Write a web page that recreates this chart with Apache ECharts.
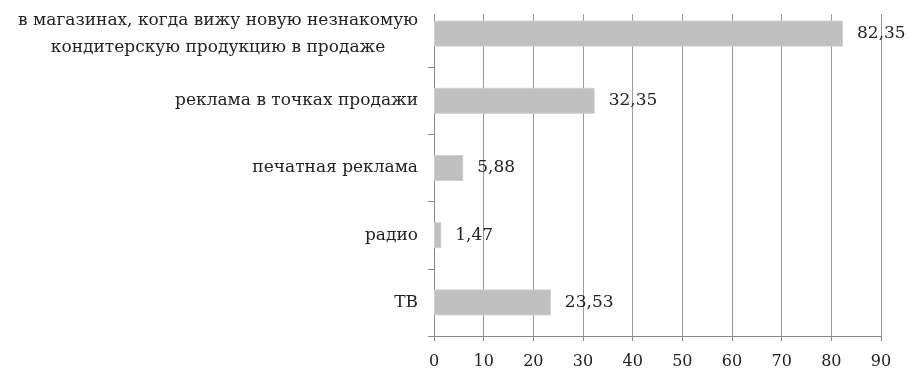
<!DOCTYPE html>
<html>
<head>
<meta charset="utf-8">
<script src="https://cdn.jsdelivr.net/npm/echarts@6/dist/echarts.min.js"></script>
<style>
  html, body { margin: 0; padding: 0; background: #fff; }
  #chart { width: 909px; height: 376px; }
</style>
</head>
<body>
<div id="chart"></div>
<script>
// categories bottom -> top (category axis on y grows upward)
var categories = [
  "ТВ",
  "радио",
  "печатная реклама",
  "реклама в точках продажи",
  "в магазинах, когда вижу новую незнакомую\nкондитерскую продукцию в продаже"
];
var values = [23.53, 1.47, 5.88, 32.35, 82.35];
var xTicks = [0, 90, 10]; // min, max, step

var font = "'DejaVu Serif', serif";
var chart = echarts.init(document.getElementById("chart"));

var option = {
  animation: false,
  grid: { left: 434, right: 28, top: -3, bottom: 40 },
  xAxis: {
    type: "value",
    min: xTicks[0],
    max: xTicks[1],
    interval: xTicks[2],
    axisLine: { show: true, lineStyle: { color: "#888", width: 1 } },
    axisTick: { show: true, length: 5, lineStyle: { color: "#888" } },
    axisLabel: { color: "#222", fontFamily: font, fontSize: 16, margin: 18 },
    splitLine: { show: true, lineStyle: { color: "#999", width: 1 } }
  },
  yAxis: {
    type: "category",
    data: categories,
    axisLine: { show: true, lineStyle: { color: "#888", width: 1 } },
    axisTick: { show: true, length: 6, lineStyle: { color: "#888" } },
    axisLabel: {
      color: "#222",
      fontFamily: font,
      fontSize: 17,
      margin: 16,
      formatter: function (v) {
        return v.split("\n").map(function (s) { return "{c|" + s + "}"; }).join("\n");
      },
      rich: { c: { align: "center", fontFamily: font, fontSize: 17, lineHeight: 27, color: "#222" } }
    },
    splitLine: { show: false }
  },
  series: [{
    type: "bar",
    data: values,
    barWidth: 26,
    itemStyle: { color: "#c0c0c0", borderColor: "#cfcfcf", borderWidth: 1 },
    label: {
      show: true,
      position: "right",
      distance: 14,
      color: "#222",
      fontFamily: font,
      fontSize: 17,
      formatter: function (p) { return String(p.value).replace(".", ","); }
    }
  }],
  graphic: [{
    type: "rect",
    shape: { x: 428, y: 0, width: 478, height: 14 },
    style: { fill: "#fff" },
    z: 100
  }]
};
chart.setOption(option);
</script>
</body>
</html>
